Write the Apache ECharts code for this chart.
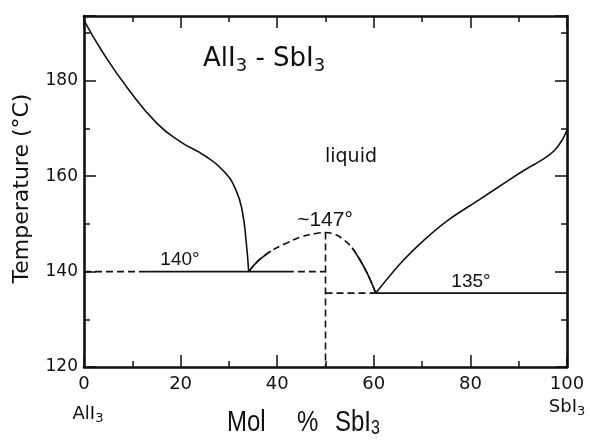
<!DOCTYPE html>
<html>
<head>
<meta charset="utf-8">
<script src="https://cdn.jsdelivr.net/npm/echarts@6/dist/echarts.min.js"></script>
<style>
html,body{margin:0;padding:0;background:#fff;}
#chart{width:590px;height:440px;}
</style>
</head>
<body>
<div id="chart"></div>
<script>
// ---- data (mol % SbI3, temperature °C) ----
const xTicks = [0, 20, 40, 60, 80, 100];
const yTicks = [120, 140, 160, 180];

const leftLiquidusX = [0, 4, 9, 15, 20, 25, 29, 31.5, 32.8, 33.6, 34.1];
const leftLiquidusY = [192.7, 185.8, 178.5, 171.2, 167.2, 164.3, 161.0, 157.0, 152.5, 146.0, 140.0];

// maximum (compound AlI3·SbI3, ~147°), dashed where uncertain
const domeX = [34.1, 36.0, 38.7, 42.0, 45.0, 48.0, 50.0, 52.0, 54.0, 55.5, 57.0, 58.8, 60.4];
const domeY = [140.0, 142.2, 144.3, 146.0, 147.3, 148.0, 148.2, 147.8, 146.5, 145.0, 142.7, 139.3, 135.5];
const domeSolidLeftCount = 3;   // first points drawn solid
const domeSolidRightFrom = 9;   // index from which drawn solid

const rightLiquidusX = [60.4, 65.6, 70.4, 75.4, 81.7, 87.1, 91.2, 95.4, 97.5, 99.0, 100];
const rightLiquidusY = [135.5, 141.8, 146.6, 150.8, 155.0, 158.6, 161.3, 163.8, 165.5, 167.6, 169.7];

const eut140DashedLeftX = [0, 12.6];
const eut140SolidX = [12.6, 42];
const eut140DashedRightX = [42, 50];
const eut140T = 140;

const compoundX = 50;
const compoundLineY = [148.2, 120];

const eut135DashedX = [50, 60.4];
const eut135SolidX = [60.4, 100];
const eut135T = 135.5;

// ---- helpers ----
function zip(xs, ys) { return xs.map((x, i) => [x, ys[i]]); }
function hline(xs, t) { return xs.map(x => [x, t]); }

const BLACK = '#111';
function lineSeries(data, dashed, smooth, z) {
  return {
    type: 'line', data: data, xAxisIndex: 0, yAxisIndex: 0,
    symbol: 'none', showSymbol: false, silent: true,
    smooth: smooth || false,
    lineStyle: { color: BLACK, width: 1.6, type: dashed ? [7, 4] : 'solid' },
    z: z || 5
  };
}

const yMin = 120, yMax = 193.6;
const tickFont = 'DejaVu Sans';

function xAx(position, major, labels) {
  return {
    type: 'value', min: 0, max: 100, interval: major ? 20 : 10, position: position,
    axisLine: { show: major, onZero: false, lineStyle: { color: BLACK, width: 2.6 } },
    axisTick: { show: true, inside: true, length: major ? 12 : 6, lineStyle: { color: BLACK, width: 1.5 } },
    axisLabel: labels ? { show: true, margin: 8, color: BLACK, fontSize: 18, fontFamily: tickFont,
      formatter: v => (xTicks.indexOf(v) >= 0 ? String(v) : '') } : { show: false },
    splitLine: { show: false }
  };
}
function yAx(position, major, labels) {
  return {
    type: 'value', min: yMin, max: yMax, interval: major ? 20 : 10, position: position,
    axisLine: { show: major, onZero: false, lineStyle: { color: BLACK, width: 2.6 } },
    axisTick: { show: true, inside: true, length: major ? 12 : 6, lineStyle: { color: BLACK, width: 1.5 } },
    axisLabel: labels ? { show: true, margin: 6, color: BLACK, fontSize: 17, fontFamily: tickFont,
      formatter: v => (yTicks.indexOf(v) >= 0 ? String(v) : '') } : { show: false },
    splitLine: { show: false }
  };
}

function subRich(F, f, d, family) {
  return {
    m: { fontSize: F, lineHeight: F, verticalAlign: 'top', fontFamily: family, fill: BLACK, color: BLACK },
    s: { fontSize: f, lineHeight: F + 2 * d, fontFamily: family, fill: BLACK, color: BLACK }
  };
}

const domeAll = zip(domeX, domeY);

const chart = echarts.init(document.getElementById('chart'), null, { renderer: 'canvas' });
chart.setOption({
  animation: false,
  backgroundColor: '#fff',
  grid: { left: 84, right: 23, top: 16, bottom: 73, containLabel: false },
  xAxis: [xAx('bottom', true, true), xAx('bottom', false, false), xAx('top', true, false), xAx('top', false, false)],
  yAxis: [yAx('left', true, true), yAx('left', false, false), yAx('right', true, false), yAx('right', false, false)],
  series: [
    lineSeries(zip(leftLiquidusX, leftLiquidusY), false, 0.5),
    lineSeries(domeAll, true, 0.4, 4),
    lineSeries(domeAll.slice(0, domeSolidLeftCount), false, 0.4),
    lineSeries(domeAll.slice(domeSolidRightFrom), false, 0.4),
    lineSeries(zip(rightLiquidusX, rightLiquidusY), false, 0.3),
    lineSeries(hline(eut140DashedLeftX, eut140T), true),
    lineSeries(hline(eut140SolidX, eut140T), false),
    lineSeries(hline(eut140DashedRightX, eut140T), true),
    lineSeries(compoundLineY.map(t => [compoundX, t]), true),
    lineSeries(hline(eut135DashedX, eut135T), true),
    lineSeries(hline(eut135SolidX, eut135T), false)
  ],
  graphic: [
    { type: 'text', x: 203, y: 46, silent: true,
      style: { text: '{m|AlI}{s|3}{m| - SbI}{s|3}', rich: subRich(26, 18, 7, 'DejaVu Sans'), align: 'left', verticalAlign: 'top' } },
    { type: 'text', x: 351, y: 157, silent: true,
      style: { text: 'liquid', fontSize: 19, fontFamily: 'DejaVu Sans', fill: BLACK, align: 'center', verticalAlign: 'middle' } },
    { type: 'text', x: 325, y: 220, silent: true,
      style: { text: '~147°', fontSize: 21, fontFamily: 'Liberation Sans', fill: BLACK, align: 'center', verticalAlign: 'middle' } },
    { type: 'text', x: 180, y: 260, silent: true,
      style: { text: '140°', fontSize: 19, fontFamily: 'Liberation Sans', fill: BLACK, align: 'center', verticalAlign: 'middle' } },
    { type: 'text', x: 471, y: 282, silent: true,
      style: { text: '135°', fontSize: 19, fontFamily: 'Liberation Sans', fill: BLACK, align: 'center', verticalAlign: 'middle' } },
    { type: 'text', x: 88, y: 405, silent: true,
      style: { text: '{m|AlI}{s|3}', rich: subRich(18, 13, 5, 'DejaVu Sans'), align: 'center', verticalAlign: 'top' } },
    { type: 'text', x: 567, y: 398, silent: true,
      style: { text: '{m|SbI}{s|3}', rich: subRich(18, 13, 5, 'DejaVu Sans'), align: 'center', verticalAlign: 'top' } },
    { type: 'text', x: 227, y: 408, scaleY: 1.25, silent: true,
      style: { text: '{m|Mol}', rich: subRich(24, 16, 4.5, 'Liberation Sans'), align: 'left', verticalAlign: 'top' } },
    { type: 'text', x: 297, y: 408, scaleY: 1.25, silent: true,
      style: { text: '{m|%}', rich: subRich(24, 16, 4.5, 'Liberation Sans'), align: 'left', verticalAlign: 'top' } },
    { type: 'text', x: 335, y: 408, scaleY: 1.25, silent: true,
      style: { text: '{m|SbI}{s|3}', rich: subRich(24, 16, 4.5, 'Liberation Sans'), align: 'left', verticalAlign: 'top' } },
    { type: 'text', x: 22, y: 188.5, rotation: Math.PI / 2, silent: true,
      style: { text: 'Temperature (°C)', fontSize: 22, fontFamily: 'DejaVu Sans', fill: BLACK, align: 'center', verticalAlign: 'middle' } }
  ]
});
</script>
</body>
</html>
